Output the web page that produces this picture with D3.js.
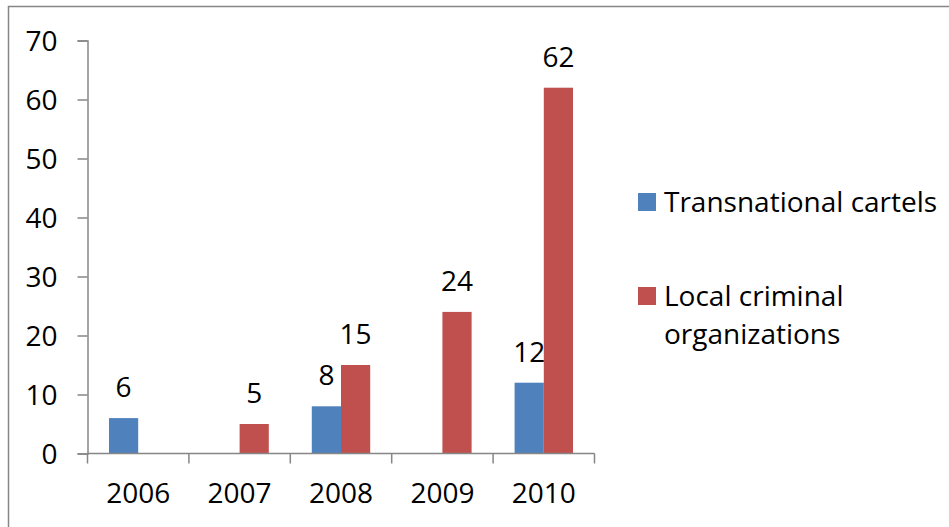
<!DOCTYPE html>
<html>
<head>
<meta charset="utf-8">
<script src="https://cdn.jsdelivr.net/npm/d3@7"></script>
<style>
  body { margin: 0; background: #fff; }
  svg text { font-family: "Open Sans", sans-serif; fill: #000; }
</style>
</head>
<body>
<svg id="chart"></svg>
<script>
const years = ["2006", "2007", "2008", "2009", "2010"];
const seriesNames = ["Transnational cartels", "Local criminal organizations"];
const transnational = [6, null, 8, null, 12];
const localCriminal = [null, 5, 15, 24, 62];
const yTicks = [0, 10, 20, 30, 40, 50, 60, 70];

const WIDTH = 949;
const HEIGHT = 527;
const AXIS_COLOR = "#868686";
const colors = ["#4F81BD", "#C0504D"];
const FONT_SIZE = 28;

const svg = d3.select("#chart").attr("width", WIDTH).attr("height", HEIGHT);

// outer frame (cropped at right and bottom in the original)
svg.append("rect")
    .attr("x", 8.5).attr("y", 6.5)
    .attr("width", WIDTH + 10).attr("height", HEIGHT + 10)
    .attr("fill", "none").attr("stroke", AXIS_COLOR).attr("stroke-width", 1.5);

const x = d3.scaleBand().domain(years).range([87.5, 594.5]).padding(0);
const xInner = d3.scaleBand().domain([0, 1])
    .range([x.bandwidth() * 0.212, x.bandwidth() * 0.788]);
const y = d3.scaleLinear().domain([0, 70]).range([453.5, 40.5]);

// y axis
const yAxis = svg.append("g").attr("transform", "translate(87.5,0)")
    .call(d3.axisLeft(y).tickValues(yTicks).tickSize(10).tickPadding(20));
yAxis.select(".domain").attr("stroke", AXIS_COLOR).attr("stroke-width", 1.5);
yAxis.selectAll(".tick line").attr("stroke", AXIS_COLOR).attr("stroke-width", 1.5);
yAxis.selectAll(".tick text").attr("font-size", FONT_SIZE).attr("dy", "0.36em")
    .style("font-family", '"Open Sans", sans-serif');

// bars
const rows = years.map((yr, i) => ({ year: yr, values: [transnational[i], localCriminal[i]] }));
const groups = svg.selectAll(".yr").data(rows).join("g")
    .attr("class", "yr")
    .attr("transform", d => `translate(${x(d.year)},0)`);

const cells = groups.selectAll(".cell")
    .data(d => d.values.map((v, k) => ({ k, v })).filter(c => c.v !== null))
    .join("g").attr("class", "cell");

cells.append("rect")
    .attr("x", c => xInner(c.k))
    .attr("width", xInner.bandwidth())
    .attr("y", c => y(c.v))
    .attr("height", c => y(0) - y(c.v))
    .attr("fill", c => colors[c.k]);

cells.append("text")
    .attr("x", c => xInner(c.k) + xInner.bandwidth() / 2)
    .attr("y", c => y(c.v) - 21)
    .attr("text-anchor", "middle")
    .attr("font-size", FONT_SIZE)
    .text(c => c.v);

// x axis
const xAxis = svg.append("g").attr("transform", "translate(0,453.5)");
xAxis.append("line")
    .attr("x1", x.range()[0]).attr("x2", x.range()[1])
    .attr("stroke", AXIS_COLOR).attr("stroke-width", 1.5);
xAxis.selectAll(".xt").data(years.concat(["end"])).join("line")
    .attr("class", "xt")
    .attr("x1", (d, i) => x.range()[0] + i * x.bandwidth())
    .attr("x2", (d, i) => x.range()[0] + i * x.bandwidth())
    .attr("y1", 0).attr("y2", 10)
    .attr("stroke", AXIS_COLOR).attr("stroke-width", 1.5);
xAxis.selectAll(".xl").data(years).join("text")
    .attr("class", "xl")
    .attr("x", d => x(d) + x.bandwidth() / 2)
    .attr("y", 49)
    .attr("text-anchor", "middle")
    .attr("font-size", FONT_SIZE)
    .text(d => d);

// legend
const legendLines = [["Transnational cartels"], ["Local criminal", "organizations"]];
const legend = svg.append("g").attr("transform", "translate(638,0)");
const legendTop = [193, 287];
seriesNames.forEach((name, k) => {
    const g = legend.append("g").attr("transform", `translate(0,${legendTop[k]})`);
    g.append("rect").attr("width", 18).attr("height", 18).attr("fill", colors[k]);
    g.selectAll("text").data(legendLines[k]).join("text")
        .attr("x", 26)
        .attr("y", (d, i) => 19 + i * 38)
        .attr("font-size", FONT_SIZE)
        .text(d => d);
});
</script>
</body>
</html>
